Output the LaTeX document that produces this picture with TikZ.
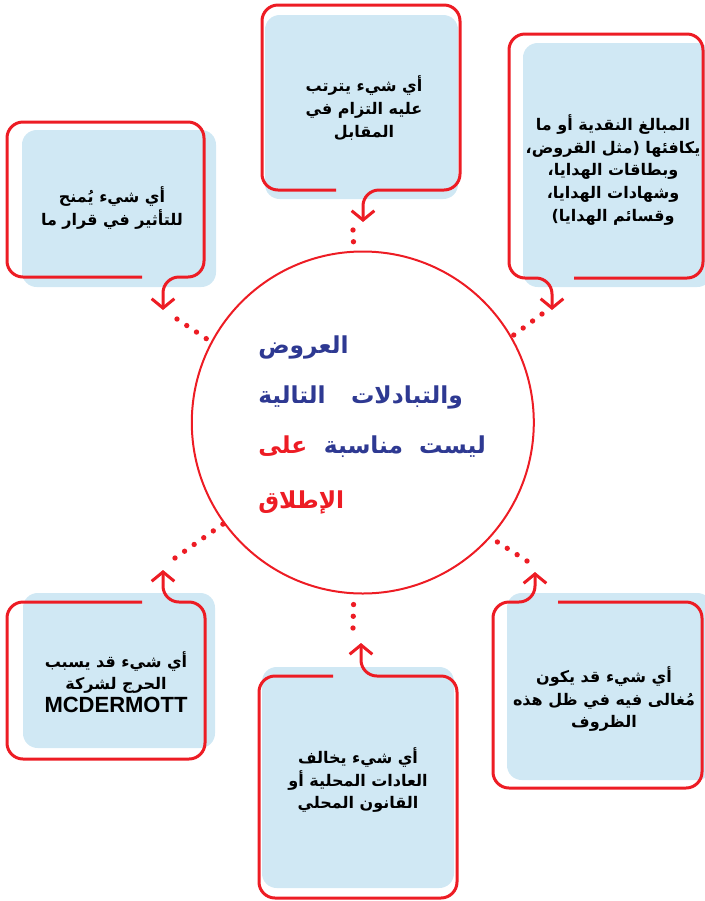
\documentclass[tikz,border=0pt]{standalone}
\usepackage{fontspec}
\setmainfont{Liberation Sans}
\newfontfamily\arabicfont[Script=Arabic]{DejaVu Sans}
\newfontfamily\latinfont{Liberation Sans}
\TeXXeTstate=1
\usetikzlibrary{arrows.meta}
\definecolor{callred}{RGB}{237,28,36}
\definecolor{cardblue}{RGB}{208,232,244}
\definecolor{hubblue}{RGB}{46,57,146}
\newcommand{\rtl}[1]{\beginR #1\endR}

\begin{document}
\begin{tikzpicture}
    [x=0.75pt,y=-0.75pt,inner sep=0pt,
     card/.style={fill=cardblue,rounded corners=11pt},
     callout/.style={draw=callred,line width=2.25pt,rounded corners=12pt,
       -{Straight Barb[length=7pt,width=17pt]}},
     dotline/.style={draw=callred,line width=4pt,line cap=round,
       dash pattern=on 0pt off 8.8pt},
     boxtext/.style={font=\arabicfont\bfseries\fontsize{12}{17}\selectfont,align=center},
     hubtext/.style={font=\arabicfont\bfseries\fontsize{17.5}{20}\selectfont,text=hubblue,anchor=base west}]

    \useasboundingbox (0,0) rectangle (705,901);

    % blue cards:
    \fill [card] (22,130) rectangle (216,287);
    \fill [card] (265,15) rectangle (458,199);
    \fill [card] (523,43) rectangle (712,287);
    \fill [card] (23,593) rectangle (215,748);
    \fill [card] (262,667) rectangle (454,888);
    \fill [card] (507,593) rectangle (712,780);

    % red callout outlines:
    \draw [callout] (142,277) -- (7,277) -- (7,122) -- (204,122) -- (204,277) -- (163,277) -- (163,310);
    \draw [callout] (336,190) -- (262,190) -- (262,5) -- (460,5) -- (460,190) -- (363,190) -- (363,222);
    \draw [callout] (574,278) -- (703,278) -- (703,34) -- (509,34) -- (509,278) -- (552,278) -- (552,310);
    \draw [callout] (142,602) -- (7,602) -- (7,759) -- (205,759) -- (205,602) -- (163,602) -- (163,570);
    \draw [callout] (333,676) -- (259,676) -- (259,898) -- (457,898) -- (457,676) -- (361,676) -- (361,643);
    \draw [callout] (558,602) -- (702,602) -- (702,788) -- (493,788) -- (493,602) -- (535,602) -- (535,572);

    % card texts:
    \node (t1) at (112,208) [boxtext] {\rtl{أي شيء يُمنح}\\ \rtl{للتأثير في قرار ما}};
    \node (t2) at (364,108) [boxtext] {\rtl{أي شيء يترتب}\\ \rtl{عليه التزام في}\\ \rtl{المقابل}};
    \node (t3) at (613,170) [boxtext] {\rtl{المبالغ النقدية أو ما}\\ \rtl{يكافئها (مثل القروض،}\\
      \rtl{وبطاقات الهدايا،}\\ \rtl{وشهادات الهدايا،}\\ \rtl{وقسائم الهدايا)}};
    \node (t5) at (116,682) [boxtext] {\rtl{أي شيء قد يسبب}\\ \rtl{الحرج لشركة}\\
      {\latinfont\bfseries\fontsize{16.5}{18}\selectfont MCDERMOTT}};
    \node (t6) at (358,780) [boxtext] {\rtl{أي شيء يخالف}\\ \rtl{العادات المحلية أو}\\ \rtl{القانون المحلي}};
    \node (t7) at (604,699) [boxtext] {\rtl{أي شيء قد يكون}\\ \rtl{مُغالى فيه في ظل هذه}\\ \rtl{الظروف}};

    % hub circle:
    \node (hub) at (362.8,422.5) [circle,draw=callred,line width=1.5pt,minimum size=256.5pt] {};

    % hub text:
    \node (hub1) at (258,353) [hubtext] {\rtl{العروض}};
    \node (hub2) at (258,403) [hubtext] {\rtl{والتبادلات\hspace{19pt}التالية}};
    \node (hub3b) at (258,453) [hubtext,text=callred] {\rtl{على}};
    \node (hub3a) at ([xshift=12pt]hub3b.base east) [hubtext] {\rtl{ليست\hspace{12pt}مناسبة}};
    \node (hub4) at (258,508) [hubtext,text=callred] {\rtl{الإطلاق}};

    % dotted links:
    \coordinate (d1) at (177,319);
    \coordinate (d2) at (353,230);
    \coordinate (d3) at (542,314);
    \coordinate (d5) at (175,558);
    \coordinate (d6) at (353,628);
    \coordinate (d7) at (527,561);

    \draw [dotline] (d1) -- (hub.152);
    \draw [dotline] (d2) -- (hub.93);
    \draw [dotline] (d3) -- (hub.30);
    \draw [dotline] (d5) -- (hub.216);
    \draw [dotline] (d6) -- (hub.267);
    \draw [dotline] (d7) -- (hub.-42);

  \end{tikzpicture}
\end{document}
